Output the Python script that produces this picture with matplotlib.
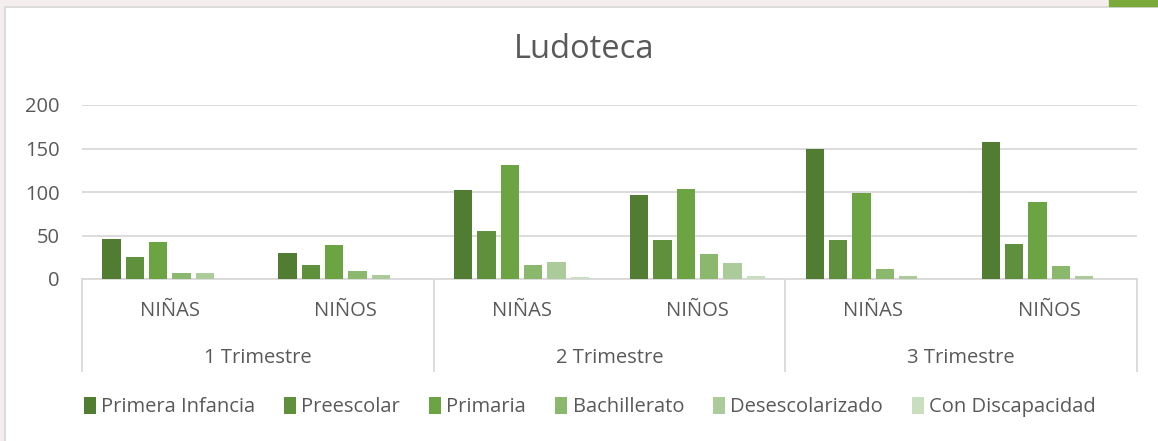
import numpy as np
import matplotlib
matplotlib.use("Agg")
import matplotlib.pyplot as plt
from matplotlib.patches import Rectangle

plt.rcParams['font.family'] = ['Open Sans', 'DejaVu Sans']

# data
trimestres = ["1 Trimestre", "2 Trimestre", "3 Trimestre"]
generos = ["NIÑAS", "NIÑOS"]
series = ["Primera Infancia", "Preescolar", "Primaria", "Bachillerato",
          "Desescolarizado", "Con Discapacidad"]
primera_infancia = [46, 30, 102, 96, 149, 158]
preescolar = [25, 16, 55, 45, 45, 40]
primaria = [43, 39, 131, 103, 99, 88]
bachillerato = [7, 9, 16, 29, 11, 15]
desescolarizado = [7, 5, 19, 18, 3, 3]
con_discapacidad = [0, 0, 2, 3, 0, 0]
yticks = [0, 50, 100, 150, 200]

colors = ["#507D32", "#5F913C", "#6CA444", "#8AB96E", "#ACCB9B", "#C8DEBE"]
txt = "#595959"
grid = "#D9D9D9"

values = [primera_infancia, preescolar, primaria, bachillerato,
          desescolarizado, con_discapacidad]

fig = plt.figure(figsize=(11.58, 4.41), dpi=100)
W, H = 1158, 441

# outer frame bits
fig.patches.append(Rectangle((0, 1 - 6 / H), 1, 6 / H, transform=fig.transFigure,
                             color="#F4EEEE", zorder=-3))
fig.patches.append(Rectangle((0, 0), 5 / W, 1, transform=fig.transFigure,
                             color="#F4EEEE", zorder=-3))
fig.patches.append(Rectangle((5 / W, -0.01), 1.1, 1 - 7 / H + 0.01, transform=fig.transFigure,
                             facecolor="white", edgecolor=grid, lw=1.3, zorder=-2))
fig.patches.append(Rectangle((1109 / W, 1 - 6 / H), 49 / W, 6 / H,
                             transform=fig.transFigure, color="#7AAA3A", zorder=-1))

ax = fig.add_axes([82 / W, 162 / H, (1137 - 82) / W, 174 / H])
ax.set_zorder(2)
ax.patch.set_alpha(0)
x = np.arange(len(trimestres) * len(generos))
slot = 0.1327
bw = 0.104
for i, (name, vals) in enumerate(zip(series, values)):
    ax.bar(x + (i - 2.5) * slot, vals, width=bw, color=colors[i], label=name, zorder=3)

ax.set_xlim(-0.5, len(x) - 0.5)
ax.set_ylim(0, 200)
ax.set_yticks(yticks)
ax.tick_params(axis='y', length=0, pad=16, labelsize=14.5, labelcolor=txt)
ax.yaxis.grid(True, color=grid, lw=1.3, zorder=0)
for s in ["top", "right", "left"]:
    ax.spines[s].set_visible(False)
ax.spines["bottom"].set_color(grid)
ax.spines["bottom"].set_linewidth(1.3)

ax.set_xticks(x)
ax.set_xticklabels(generos * len(trimestres))
ax.tick_params(axis='x', length=0, pad=16, labelsize=14.5, labelcolor=txt)

tr = ax.get_xaxis_transform()
for b in [-0.5, 1.5, 3.5, 5.5]:
    ax.plot([b, b], [0, -0.53], transform=tr, color=grid, lw=1.3, clip_on=False)
for j, t in enumerate(trimestres):
    ax.text(2 * j + 0.5, -0.455, t, transform=tr, ha="center", va="center",
            fontsize=14.5, color=txt)

fig.text(584 / W, 1 - 50 / H, "Ludoteca", ha="center", va="center",
         fontsize=23.5, color=txt)

fig.legend(loc="center", bbox_to_anchor=(590 / W, 1 - 407 / H), ncol=6,
           frameon=False, fontsize=14.5, labelcolor=txt, handlelength=0.6,
           handleheight=0.9, handletextpad=0.25, columnspacing=1.45)

fig.savefig("out.png", dpi=100)
